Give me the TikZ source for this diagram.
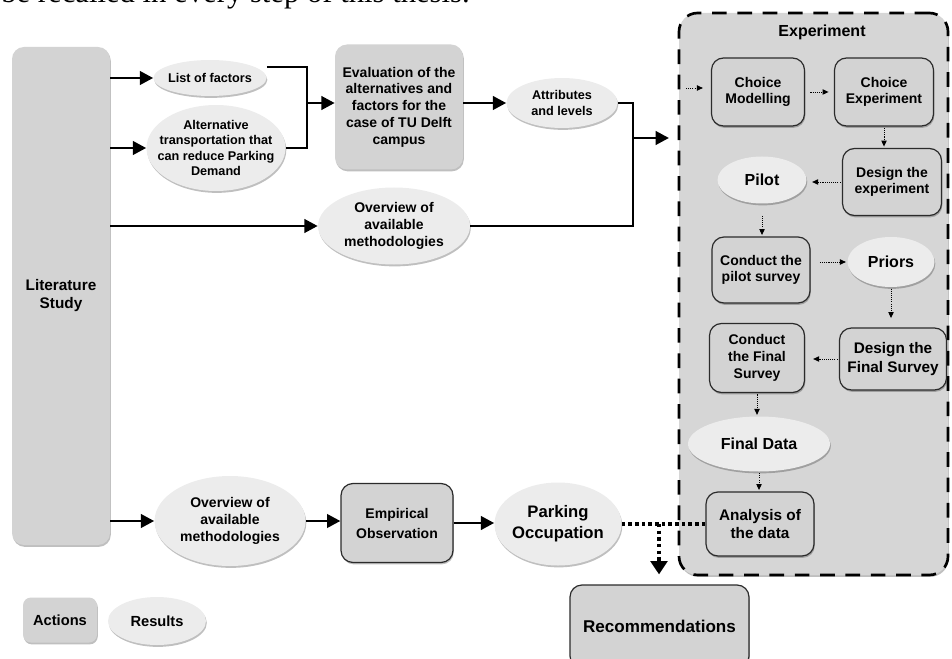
\documentclass[tikz,border=0pt]{standalone}
\usepackage{fontspec}
\setmainfont{Liberation Sans}
\newfontfamily\introserif{Liberation Serif}
\usetikzlibrary{arrows.meta,shapes.geometric,shadows}

\definecolor{actgray}{HTML}{D3D3D3}
\definecolor{resgray}{HTML}{ECECEC}
\definecolor{expgray}{HTML}{D6D6D6}
\definecolor{edgegray}{HTML}{2B2B2B}

\tikzset{
  sz/.style 2 args={minimum width=#1*0.75pt, minimum height=#2*0.75pt},
  txt/.style 2 args={font=\bfseries\fontsize{#1}{#2}\selectfont},
  softshadow/.style={drop shadow={shadow xshift=0.6pt, shadow yshift=-1.4pt, opacity=0.25, fill=black}},
  action/.style={rectangle, rounded corners=9pt, fill=actgray, softshadow, align=center, inner sep=0pt},
  actframe/.style={action, draw=edgegray, line width=0.9pt},
  result/.style={ellipse, fill=resgray, softshadow, align=center, inner sep=-2cm},
  flow/.style={line width=2.2pt, -{Triangle[length=10pt,width=10pt]}},
  link/.style={line width=2.2pt},
  hint/.style={line width=0.7pt, dash pattern=on 0.8pt off 0.8pt, -{Triangle[length=4.5pt,width=4pt]}},
  bigdot/.style={line width=2.6pt, dash pattern=on 2.6pt off 2.4pt},
}

\begin{document}
\begin{tikzpicture}[x=0.75pt, y=-0.75pt]
\useasboundingbox (0,0) rectangle (952,659);

% running text of the page above the figure
\node[anchor=base east, inner sep=0pt, font=\introserif\fontsize{23}{23}\selectfont] (intro) at (470,2.5) {be recalled in every step of this thesis.};

% experiment frame
\node[draw=black, fill=expgray, line width=2pt, dash pattern=on 11pt off 8pt, rounded corners=14pt,
      softshadow, sz={269}{562}, inner sep=0pt] (exp) at (813.5,294) {};
\node[txt={12}{14}] (exptitle) at (822,32) {Experiment};

% left column
\node[action, sz={98}{498}, txt={11.5}{13.5}] (lit) at (61,296) {Literature\\Study};

\node[result, sz={113}{36}, txt={9.5}{11.5}] (lof) at (210,78) {List of factors};
\node[result, sz={139}{86}, txt={9.5}{11.6}] (alt) at (216,148) {Alternative\\transportation that\\can reduce Parking\\Demand};
\node[action, sz={128}{125}, txt={10.5}{12.6}] (eval) at (399,107) {Evaluation of the\\alternatives and\\factors for the\\case of TU Delft\\campus};
\node[result, sz={111}{50}, txt={9.5}{11.3}] (attr) at (562,103) {Attributes\\and levels};
\node[result, sz={152}{77}, txt={10.5}{12.5}] (ov1) at (394,226) {Overview of\\available\\methodologies};

% bottom row
\node[result, sz={151}{90}, txt={10.5}{12.5}] (ov2) at (230,521) {Overview of\\available\\methodologies};
\node[actframe, sz={112}{79}, txt={10.5}{15}] (emp) at (397,523) {Empirical\\Observation};
\node[result, sz={127}{83}, txt={12.5}{16}] (po) at (558,524) {Parking\\Occupation};
\node[actframe, sz={179}{83}, txt={12.8}{15}] (rec) at (659.5,626.5) {Recommendations};

% experiment steps
\node[actframe, sz={93}{68}, txt={10.5}{12.5}] (cm) at (758,92) {Choice\\Modelling};
\node[actframe, sz={99}{68}, txt={10.5}{12.5}] (ce) at (884,92) {Choice\\Experiment};
\node[actframe, sz={99}{67}, txt={10.5}{12.5}] (dte) at (892,182) {Design the\\experiment};
\node[result, sz={89}{47}, txt={12}{14}] (pilot) at (762,180) {Pilot};
\node[actframe, sz={98}{66}, txt={10.5}{12.5}] (cps) at (761,270) {Conduct the\\pilot survey};
\node[result, sz={87}{50}, txt={12}{14}] (priors) at (891,262) {Priors};
\node[actframe, sz={107}{62}, txt={11.5}{14}] (dfs) at (893,359) {Design the\\Final Survey};
\node[actframe, sz={95}{69}, txt={10.5}{12.5}] (cfs) at (757,358) {Conduct\\the Final\\Survey};
\node[result, sz={142}{55}, txt={12}{14}] (fd) at (759,444) {Final Data};
\node[actframe, sz={108}{64}, txt={11.5}{13}] (aod) at (760,524) {Analysis of\\the data};

% legend
\node[action, rounded corners=6pt, sz={74}{45}, txt={11}{13}] (act) at (60,620) {Actions};
\node[result, sz={98}{48}, txt={11}{13}] (res) at (157,621) {Results};

% main flow
\draw[flow] (lit.east|-lof.west) -- (lof.west);
\draw[flow] (lit.east|-alt.west) -- (alt.west);
\draw[flow] (lit.east|-ov1.west) -- (ov1.west);
\draw[flow] (lit.east|-ov2.west) -- (ov2.west);

\coordinate (b1) at (307,67);
\coordinate (b2) at (307,148);
\coordinate (j1) at (307,103);
\draw[link] (lof.east|-b1) -- (b1) -- (b2) -- (alt.east|-b2);
\draw[flow] (j1) -- (eval.west|-j1);
\draw[flow] (eval.east|-attr.west) -- (attr.west);

\coordinate (b3) at (633,103);
\coordinate (j2) at (633,138);
\draw[link] (attr.east) -- (b3) -- (b3|-ov1.east) -- (ov1.east);
\draw[flow, shorten >=6.5pt] (j2) -- (exp.west|-j2);

\draw[flow] (ov2.east) -- (emp.west|-ov2.east);
\draw[flow] (emp.east) -- (po.west|-emp.east);

% closing links to the recommendations
\coordinate (j3) at (659,524);
\draw[bigdot] (po.east) -- (aod.west);
\draw[bigdot, -{Triangle[length=10pt,width=12.5pt]}, shorten >=7.5pt] (j3) -- (j3|-rec.north);

% steps of the experiment
\coordinate (cmin) at (686,88);
\draw[hint] (cmin) -- ([xshift=-6pt]cm.west|-cmin);
\draw[hint, shorten <=4pt, shorten >=4pt] (cm.east) -- (ce.west);
\draw[hint, shorten <=1pt, shorten >=1pt] (ce.south) -- (ce.south|-dte.north);
\draw[hint, shorten <=1pt, shorten >=4pt] (dte.west) -- (pilot.east|-dte.west);
\draw[hint, shorten <=9pt, shorten >=1pt] (pilot.south) -- (pilot.south|-cps.north);
\draw[hint, shorten <=7pt, shorten >=1pt] (cps.east|-priors.west) -- (priors.west);
\draw[hint, shorten <=1pt, shorten >=7pt] (priors.south) -- (priors.south|-dfs.north);
\draw[hint, shorten <=1pt, shorten >=6pt] (dfs.west) -- (cfs.east|-dfs.west);
\draw[hint, shorten <=1pt, shorten >=1pt] (cfs.south) -- (cfs.south|-fd.north);
\draw[hint, shorten <=1pt, shorten >=1pt] (fd.south) -- (fd.south|-aod.north);
\end{tikzpicture}
\end{document}
